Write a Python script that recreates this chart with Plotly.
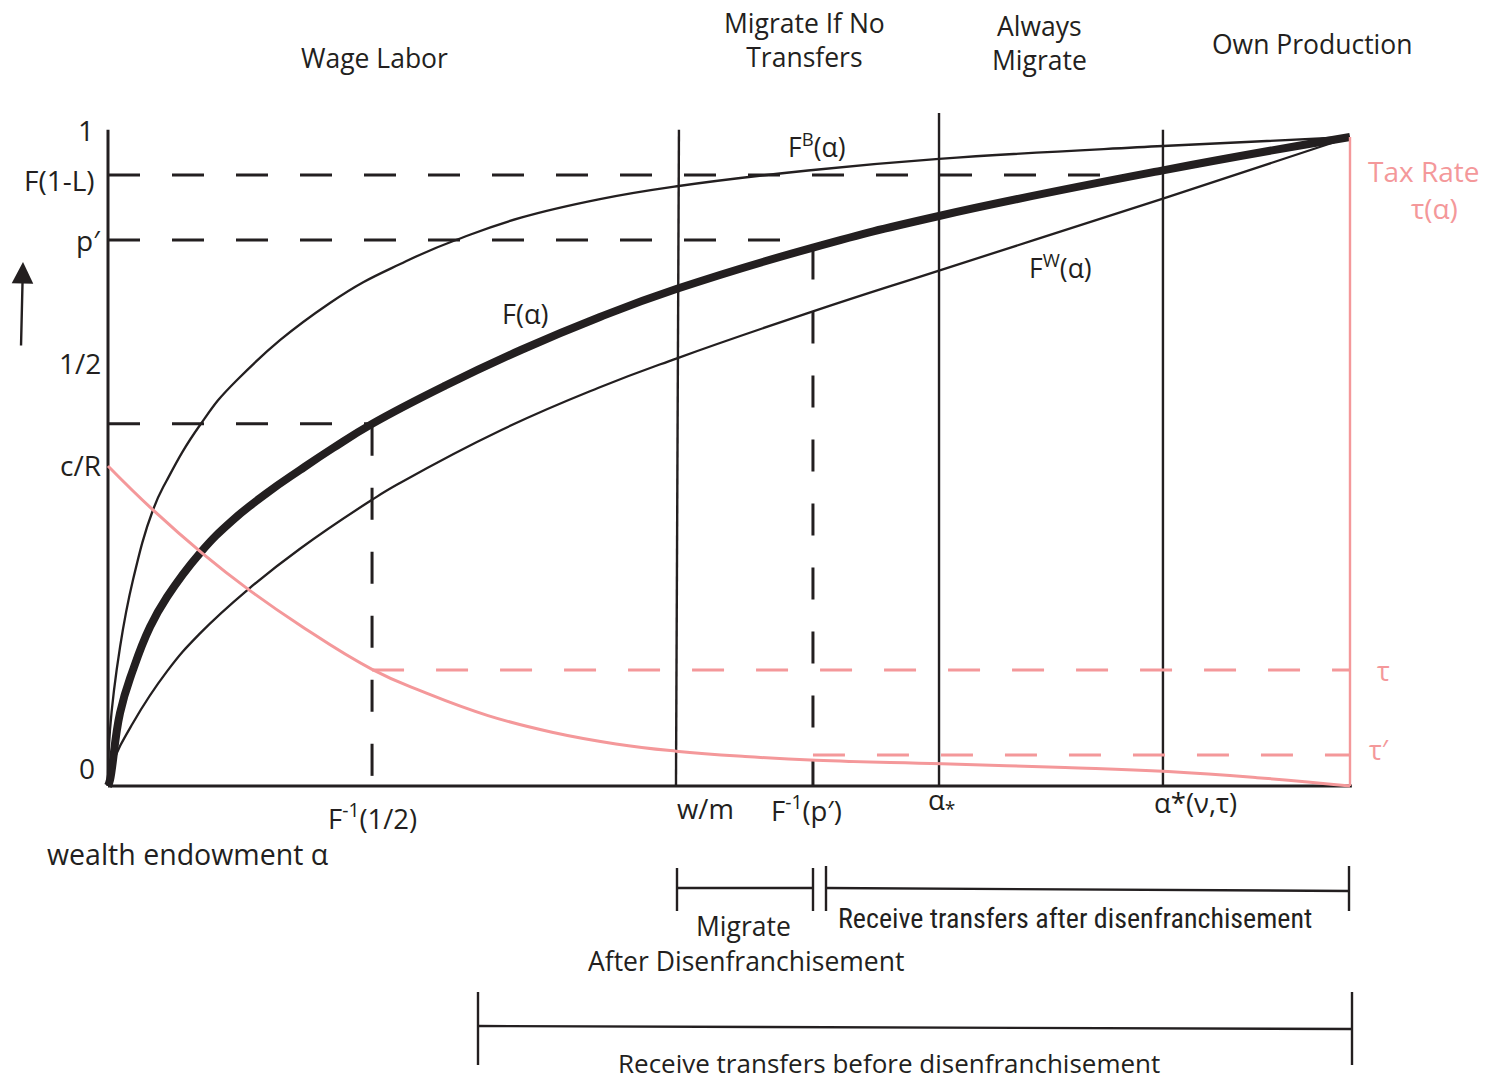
import plotly.graph_objects as go

# ---------------- data (normalised: wealth alpha in [0,1], CDF value in [0,1]) ----------------
alpha_F = [0.0, 0.0016, 0.0097, 0.0201, 0.0338, 0.0475, 0.0741, 0.1006, 0.1280, 0.1546, 0.1812,
           0.2126, 0.2713, 0.3325, 0.3961, 0.4581, 0.5676, 0.6691, 0.8494, 1.0]
F_vals = [0.0, 0.0092, 0.1125, 0.1787, 0.2450, 0.2912, 0.3590, 0.4099, 0.4515, 0.4869, 0.5208,
          0.5580, 0.6167, 0.6718, 0.7227, 0.7661, 0.8296, 0.8783, 0.9486, 1.0]

alpha_FB = [0.0, 0.0016, 0.0097, 0.0201, 0.0362, 0.0475, 0.0741, 0.1039, 0.1787, 0.2399,
            0.2866, 0.3325, 0.3961, 0.4581, 0.5636, 0.6691, 0.8494, 1.0]
FB_vals = [0.0, 0.0863, 0.2142, 0.3174, 0.4253, 0.4715, 0.5562, 0.6256, 0.7442, 0.8085,
           0.8459, 0.8757, 0.9043, 0.9241, 0.9484, 0.9663, 0.9861, 1.0]

alpha_FW = [0.0, 0.0040, 0.0201, 0.0475, 0.0741, 0.1127, 0.1546, 0.2126, 0.2351, 0.3172, 0.3945,
            0.4581, 0.5676, 0.6691, 0.8494, 1.0]
FW_vals = [0.0, 0.0354, 0.0971, 0.1766, 0.2351, 0.3027, 0.3656, 0.4410, 0.4669, 0.5490, 0.6132,
           0.6590, 0.7313, 0.7942, 0.9051, 1.0]

alpha_tau = [0.0, 0.0362, 0.0765, 0.1127, 0.1546, 0.2126, 0.2544, 0.3060, 0.3575, 0.4090, 0.4573,
             0.5129, 0.5700, 0.6715, 0.7705, 0.8535, 0.9251, 1.0]
tau_vals = [0.4931, 0.4254, 0.3577, 0.3034, 0.2477, 0.1798, 0.1446, 0.1085, 0.0828, 0.0648, 0.0537,
            0.0454, 0.0397, 0.0341, 0.0284, 0.0222, 0.0129, 0.0]

# key levels / thresholds
F_1mL = 0.9415         # F(1-L)
p_prime = 0.8413       # p'
half_level = 0.558     # level drawn for 1/2
tau_level = 0.1787     # tau
tau_prime = 0.0478     # tau'
y_top = 1.011          # top of y axis ("1")

a_half = 0.2126        # F^-1(1/2)
a_wm = (0.4573, 0.4597)  # w/m (bottom, top)
a_pinv = 0.5676        # F^-1(p')
a_star_low = 0.6691    # alpha_*
a_star_vt = 0.8494     # alpha*(v,tau)
F_at_pinv = F_vals[alpha_F.index(a_pinv)]

y_labels = ["1", "F(1-L)", "p′", "1/2", "c/R", "0"]
x_labels = ["F<sup>-1</sup>(1/2)", "w/m", "F<sup>-1</sup>(p′)", "α<sub>*</sub>", "α*(ν,τ)"]
region_labels = ["Wage Labor", "Migrate If No<br>Transfers", "Always<br>Migrate", "Own Production"]

# ---------------- styling ----------------
INK = "#231F20"
PINK = "#F4989A"
FONT = "Open Sans, Noto Sans, sans-serif"
W, H = 1496, 1081
# pixel-to-data helpers (figure uses the full page as plotting area)
PX0, PX1 = 108.0, 1350.0
PY0, PY1 = 786.0, 137.0


def X(px):
    return (px - PX0) / (PX1 - PX0)


def Y(py):
    return (PY0 - py) / (PY0 - PY1)


DASH = "32px,32px"

fig = go.Figure()


def line(xs, ys, color=INK, width=2.2):
    fig.add_trace(go.Scatter(x=xs, y=ys, mode="lines", hoverinfo="skip", showlegend=False,
                             line=dict(color=color, width=width, shape="spline", smoothing=1.3)))


def seg(xs, ys, color=INK, width=2.4, dash="solid"):
    fig.add_trace(go.Scatter(x=xs, y=ys, mode="lines", hoverinfo="skip", showlegend=False,
                             line=dict(color=color, width=width, dash=dash)))


# black dashed guides
seg([0, a_star_vt - 0.015], [F_1mL, F_1mL], width=3, dash=DASH)
seg([0, a_pinv - 0.018], [p_prime, p_prime], width=3, dash=DASH)
seg([0, a_half], [half_level, half_level], width=3, dash=DASH)
seg([a_half, a_half], [half_level, 0], width=3, dash=DASH)
seg([a_pinv, a_pinv], [F_at_pinv, 0], width=3, dash=DASH)

# vertical thresholds
seg([a_wm[0], a_wm[1]], [0, y_top], width=2.4)
seg([a_star_low, a_star_low], [0, Y(113)], width=2.4)
seg([a_star_vt, a_star_vt], [0, y_top], width=2.4)

# curves
line(alpha_FB, FB_vals, width=2.3)
line(alpha_FW, FW_vals, width=2.3)
line(alpha_F, F_vals, width=8)

# axes
seg([0, 0], [0, y_top], width=3)
seg([0, 1.0015], [0, 0], width=3)

# pink: tax rate
seg([a_half, 1.0], [tau_level, tau_level], color=PINK, width=3.2, dash=DASH)
seg([a_pinv, 1.0], [tau_prime, tau_prime], color=PINK, width=3.2, dash=DASH)
seg([1.0, 1.0], [0, 1.0], color=PINK, width=2.4)
line(alpha_tau, tau_vals, color=PINK, width=3)

# brackets under the axis
brackets = [
    # (x_left, x_right, y_left, y_right, tick_top, tick_bottom)
    (X(677), X(813), Y(888), Y(888), Y(868), Y(911)),
    (X(826), X(1349), Y(888), Y(891), Y(866), Y(911)),
    (X(478), X(1352), Y(1026), Y(1029), Y(992), Y(1065)),
]
for xl, xr, yl, yr, tt, tb in brackets:
    seg([xl, xr], [yl, yr], width=2.4)
    seg([xl, xl], [tt, tb], width=2.4)
    seg([xr, xr], [tt, tb], width=2.4)

annotations = []


def txt(text, px, py, size=26.5, color=INK, xanchor="center", family=FONT):
    annotations.append(dict(x=X(px), y=Y(py), text=text, showarrow=False, xref="x", yref="y",
                            xanchor=xanchor, yanchor="middle",
                            font=dict(family=family, size=size, color=color)))


# region titles
txt(region_labels[0], 374, 58)
txt(region_labels[1], 804, 40)
txt(region_labels[2], 1039, 43)
txt(region_labels[3], 1312, 44)

# y tick labels
y_label_pos = [(96, 130), (97, 180), (103, 240), (103, 363), (103, 465), (97, 768)]
for lab, (px, py) in zip(y_labels, y_label_pos):
    txt(lab, px, py, size=28, xanchor="right")

# x tick labels
x_label_pos = [(372, 816), (705, 808), (806, 808), (941, 801), (1195, 802)]
for lab, (px, py) in zip(x_labels, x_label_pos):
    txt(lab, px, py, size=27.5)

txt("wealth endowment α", 188, 854, size=28.5)

# curve labels
txt("F<sup>B</sup>(α)", 817, 145)
txt("F(α)", 525, 313, size=27)
txt("F<sup>W</sup>(α)", 1060, 266)

# tax labels
txt("Tax Rate", 1423, 171, size=28, color=PINK)
txt("τ(α)", 1434, 208, size=28, color=PINK)
txt("τ", 1383, 670, size=27, color=PINK)
txt("τ′", 1379, 749, size=27, color=PINK)

# bracket labels
txt("Migrate", 743, 926)
txt("After Disenfranchisement", 746, 961)
txt("Receive transfers after disenfranchisement", 1075, 918, size=28,
    family="Liberation Sans Narrow, Roboto Condensed, Roboto, sans-serif")
txt("Receive transfers before disenfranchisement", 889, 1063, size=26)

# arrow on the left
annotations.append(dict(x=X(23), y=Y(262), ax=X(21), ay=Y(347), axref="x", ayref="y",
                        xref="x", yref="y", text="", showarrow=True, arrowhead=2,
                        arrowsize=1.8, arrowwidth=2.4, arrowcolor=INK))

fig.update_layout(
    width=W, height=H,
    margin=dict(l=0, r=0, t=0, b=0),
    paper_bgcolor="white", plot_bgcolor="white",
    xaxis=dict(range=[X(0), X(W)], visible=False, fixedrange=True),
    yaxis=dict(range=[Y(H), Y(0)], visible=False, fixedrange=True),
    annotations=annotations,
    showlegend=False,
)

fig.write_html("out.html", config={"displayModeBar": False},
               post_script="document.body.style.margin='0';document.body.style.overflow='hidden';")
